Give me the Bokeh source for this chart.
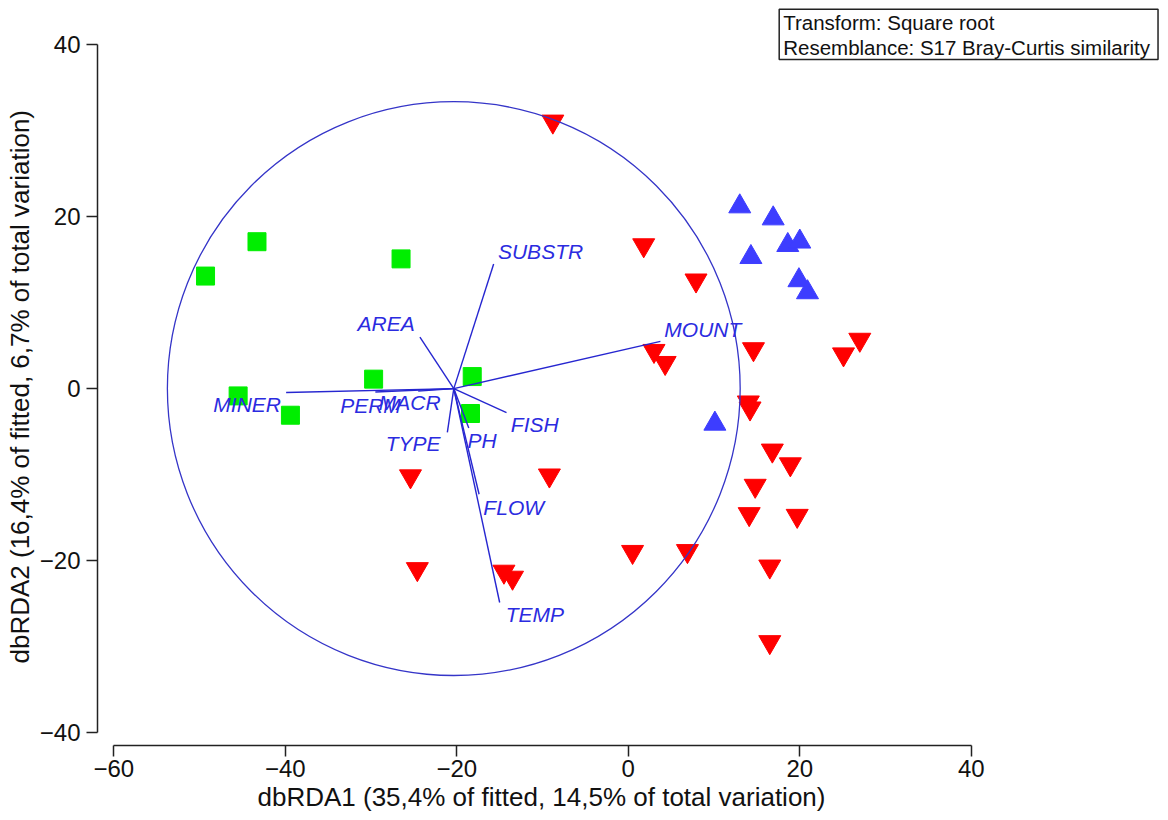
from bokeh.plotting import figure
from bokeh.models import Range1d, FixedTicker, Label, Title, ColumnDataSource
from bokeh.embed import file_html
from bokeh.resources import INLINE
from bokeh.core.properties import value

# --- sample scores (dbRDA1, dbRDA2) ---
green_x = [-43.3, -49.3, -26.5, -29.7, -18.2, -45.5, -39.4, -18.4]
green_y = [17.1, 13.1, 15.1, 1.1, 1.4, -0.85, -3.1, -2.9]

blue_x = [13.0, 16.9, 18.6, 20.0, 14.3, 19.9, 20.9, 10.1]
blue_y = [21.2, 19.8, 16.7, 17.1, 15.3, 12.6, 11.2, -4.1]

red_x = [-8.8, -25.4, -24.6, -9.2, -14.5, -13.5, 0.5, 6.9, 1.8, 7.9, 3.0, 4.3,
         14.6, 27.0, 25.1, 14.0, 14.2, 16.8, 18.9, 14.8, 14.1, 19.7, 16.5, 16.5]
red_y = [31.1, -10.2, -21.0, -10.1, -21.3, -22.0, -19.0, -18.9, 16.7, 12.6, 4.4, 3.0,
         4.6, 5.7, 4.0, -1.6, -2.3, -7.2, -8.8, -11.3, -14.6, -14.8, -20.7, -29.5]

# --- vector overlay ---
vec_names = ["SUBSTR", "AREA", "MOUNT", "MINER", "PERM", "MACR", "TYPE", "FISH", "PH", "FLOW", "TEMP"]
vec_x = [-15.7, -24.3, 3.75, -39.9, -29.5, -24.5, -21.1, -14.2, -18.6, -17.4, -15.0]
vec_y = [14.5, 6.0, 5.5, -0.46, -0.4, -0.3, -5.1, -2.8, -4.6, -12.3, -24.9]
vec_label_x = [-15.2, -24.9, 4.2, -40.5, -33.6, -29.1, -21.9, -13.7, -18.75, -16.9, -14.3]
vec_label_y = [16.0, 7.6, 6.9, -1.8, -2.0, -1.6, -6.4, -4.2, -6.0, -13.8, -26.3]
vec_label_align = ["left", "right", "left", "right", "left", "left", "right", "left", "left", "left", "left"]
origin_x, origin_y = -20.35, 0.0
circle_radius = 33.4

x_ticks = [-60, -40, -20, 0, 20, 40]
y_ticks = [-40, -20, 0, 20, 40]

x_title = "dbRDA1 (35,4% of fitted, 14,5% of total variation)"
y_title = "dbRDA2 (16,4% of fitted, 6,7% of total variation)"
info_text = "Transform: Square root\nResemblance: S17 Bray-Curtis similarity"

FONT = "Liberation Sans"
VBLUE = "#2626d0"

p = figure(width=1168, height=820, output_backend="svg", toolbar_location=None,
           x_range=Range1d(-61.90, 63.0), y_range=Range1d(-41.55, 45.18),
           min_border_left=97, min_border_right=0, min_border_top=0, min_border_bottom=75)
p.outline_line_color = None
p.xgrid.visible = False
p.ygrid.visible = False

# points
p.scatter(green_x, green_y, marker="square", size=18, fill_color="#00ee00", line_color="#00ee00")
p.scatter(blue_x, blue_y, marker="triangle", size=22, fill_color="#3d3dff", line_color="#3d3dff")
p.scatter(red_x, red_y, marker="inverted_triangle", size=22, fill_color="#ff0000", line_color="#ff0000")

# circle
p.ellipse(x=[origin_x], y=[origin_y], width=[2 * circle_radius], height=[2 * circle_radius],
          fill_color=None, line_color="#3535c8", line_width=1.3)

# vectors
vsrc = ColumnDataSource(dict(x0=[origin_x] * len(vec_x), y0=[origin_y] * len(vec_y),
                             x1=vec_x, y1=vec_y, lx=vec_label_x, ly=vec_label_y,
                             name=vec_names, align=vec_label_align))
p.segment(x0="x0", y0="y0", x1="x1", y1="y1", source=vsrc, line_color=VBLUE, line_width=1.4)
p.text(x="lx", y="ly", text="name", text_align="align", source=vsrc,
       text_baseline="middle", text_font=value(FONT), text_font_style="italic",
       text_font_size="21px", text_color="#2b2be0")

# axes
for ax, ticks, bnd in ((p.xaxis, x_ticks, (-60, 40)), (p.yaxis, y_ticks, (-40, 40))):
    ax.ticker = FixedTicker(ticks=ticks)
    ax.bounds = bnd
    ax.major_tick_out = 11
    ax.major_tick_in = 0
    ax.minor_tick_out = 0
    ax.minor_tick_in = 0
    ax.axis_line_color = "#222222"
    ax.axis_line_width = 1.5
    ax.major_tick_line_color = "#222222"
    ax.major_tick_line_width = 1.5
    ax.major_label_text_font = FONT
    ax.major_label_text_font_size = "24px"
    ax.major_label_text_color = "#111111"
p.xaxis.major_label_standoff = 3
p.yaxis.major_label_standoff = 6

# axis titles, placed along the axis extent
p.add_layout(Title(text=x_title, align="left", offset=160, standoff=0,
                   text_font=FONT, text_font_size="26px", text_font_style="normal",
                   text_color="#111111"), "below")
p.add_layout(Title(text=y_title, align="left", offset=82, standoff=4,
                   text_font=FONT, text_font_size="26px", text_font_style="normal",
                   text_color="#111111"), "left")

# info box
p.add_layout(Label(x=17.6, y=44.17, text=info_text,
                   text_font=FONT, text_font_size="20.5px", text_color="#111111",
                   text_align="left", text_baseline="top", text_line_height=1.06,
                   padding=dict(left=4, right=8, top=2, bottom=1),
                   background_fill_color="white",
                   border_line_color="#222222", border_line_width=1.5))

open("out.html", "w").write(file_html(p, INLINE))
